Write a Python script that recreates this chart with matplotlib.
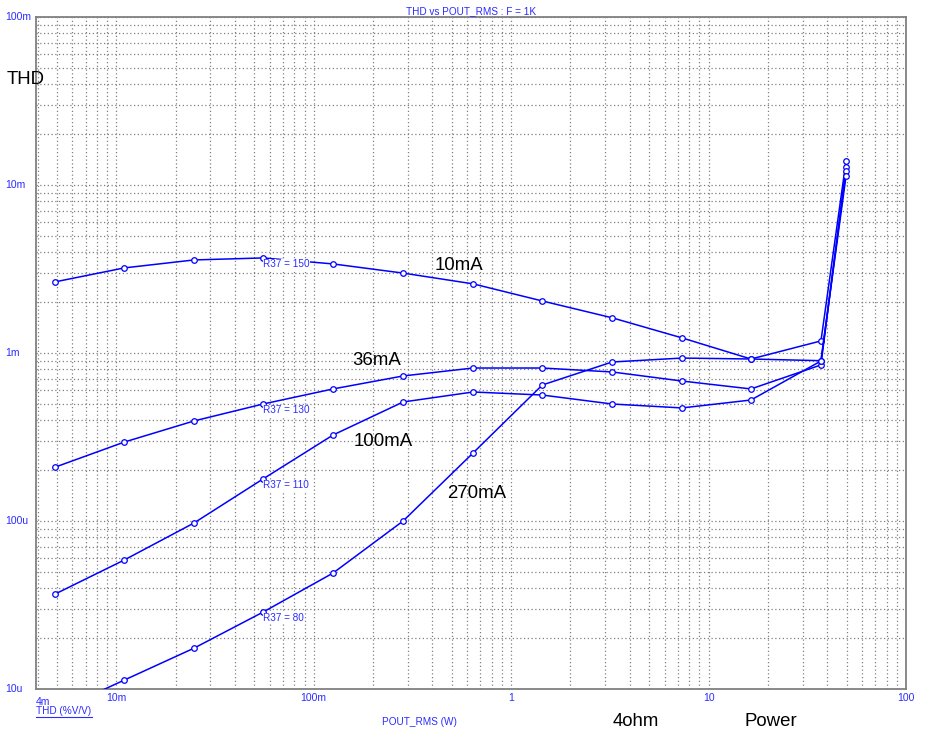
import matplotlib
matplotlib.use("Agg")
import matplotlib.pyplot as plt
from matplotlib.lines import Line2D
from matplotlib.ticker import LogLocator, NullFormatter
import matplotlib.transforms as mtransforms

plt.rcParams['font.family'] = ['Liberation Sans', 'DejaVu Sans']

# output power sweep (W), same for all four runs
pout = [0.0049, 0.011, 0.0248, 0.0555, 0.1255, 0.284, 0.642, 1.44, 3.25, 7.34, 16.4, 37.1, 49.7]

# THD (%V/V) per R37 value
thd_150 = [2.65e-3, 3.21e-3, 3.58e-3, 3.68e-3, 3.39e-3, 2.99e-3, 2.58e-3, 2.04e-3, 1.62e-3, 1.23e-3, 0.921e-3, 1.18e-3, 13.9e-3]
thd_130 = [0.209e-3, 0.295e-3, 0.394e-3, 0.497e-3, 0.611e-3, 0.730e-3, 0.814e-3, 0.814e-3, 0.771e-3, 0.681e-3, 0.611e-3, 0.849e-3, 12.8e-3]
thd_110 = [36.7e-6, 58.6e-6, 97.3e-6, 178e-6, 325e-6, 511e-6, 586e-6, 562e-6, 497e-6, 471e-6, 525e-6, 0.896e-3, 12.1e-3]
thd_80 = [7.3e-6, 11.3e-6, 17.5e-6, 28.7e-6, 49.0e-6, 100e-6, 254e-6, 645e-6, 884e-6, 933e-6, 0.921e-3, 0.90e-3, 11.3e-3]

runs = [("R37 = 150", thd_150), ("R37 = 130", thd_130), ("R37 = 110", thd_110), ("R37 = 80", thd_80)]

# hand-written notes on the plot
notes = [("10mA", 0.412, 3.30e-3), ("36mA", 0.157, 0.908e-3), ("100mA", 0.160, 0.299e-3), ("270mA", 0.474, 0.145e-3)]

ytick_vals = [10e-6, 100e-6, 1e-3, 10e-3, 100e-3]
ytick_txt = ["10u", "100u", "1m", "10m", "100m"]
xtick_vals = [0.01, 0.1, 1, 10, 100]
xtick_txt = ["10m", "100m", "1", "10", "100"]

W, H = 933, 740
fig = plt.figure(figsize=(W / 100, H / 100), dpi=100)
ax = fig.add_axes([36 / W, 1 - 689 / H, 870 / W, 672 / H])

blue = '#0000ff'
tblue = '#2b2bff'
grey = '#808080'

for label, thd in runs:
    ax.plot(pout, thd, color=blue, lw=1.1, marker='o', ms=4, mfc='white', mec=blue, mew=0.9, zorder=3)
    ax.annotate(label, (pout[3], thd[3]), xytext=(0, -4.5), textcoords='offset points',
                ha='left', va='center', fontsize=7.2, color=tblue, zorder=5,
                bbox=dict(boxstyle='square,pad=0.05', fc='white', ec='none'))

ax.set_xscale('log')
ax.set_yscale('log')
ax.set_xlim(3.93e-3, 100)
ax.set_ylim(10e-6, 100e-3)

for a in (ax.xaxis, ax.yaxis):
    a.set_minor_locator(LogLocator(base=10, subs=range(2, 10), numticks=20))
    a.set_minor_formatter(NullFormatter())
ax.grid(True, which='both', linestyle=(0, (1, 2)), color=grey, lw=0.9)
ax.set_axisbelow(True)
for s in ax.spines.values():
    s.set_color(grey)
    s.set_linewidth(1.3)
ax.tick_params(which='both', length=0)

ax.set_xticks(xtick_vals)
ax.set_xticklabels(xtick_txt, fontsize=7.5, color=tblue)
ax.tick_params(axis='x', pad=3)
ax.set_yticks(ytick_vals)
ax.set_yticklabels([])
trans = mtransforms.blended_transform_factory(fig.transFigure, ax.transData)
for v, t in zip(ytick_vals, ytick_txt):
    ax.text(5 / W, v, t, transform=trans, ha='left', va='center', fontsize=7.5, color=tblue)
ax.text(0, -0.012, "4m", transform=ax.transAxes, ha='left', va='top', fontsize=7.5, color=tblue)

fig.text(471 / W, 1 - 11 / H, "THD vs POUT_RMS : F = 1K", ha='center', va='center', fontsize=7.2, color=tblue)
fig.text(36 / W, 1 - 711 / H, "THD (%V/V)", ha='left', va='center', fontsize=7.2, color=tblue)
fig.add_artist(Line2D([36 / W, 92 / W], [1 - 717 / H, 1 - 717 / H], color=tblue, lw=0.8))
fig.text(419 / W, 1 - 722 / H, "POUT_RMS (W)", ha='center', va='center', fontsize=7.2, color=tblue)

fig.text(7 / W, 1 - 80 / H, "THD", ha='left', va='center', fontsize=13.4, color='black')
for t, x, y in notes:
    ax.text(x, y, t, ha='left', va='center', fontsize=13.4, color='black', zorder=6)
fig.text(613 / W, 1 - 722 / H, "4ohm", ha='left', va='center', fontsize=13.4, color='black')
fig.text(745 / W, 1 - 722 / H, "Power", ha='left', va='center', fontsize=13.4, color='black')

fig.savefig("out.png", dpi=100)
